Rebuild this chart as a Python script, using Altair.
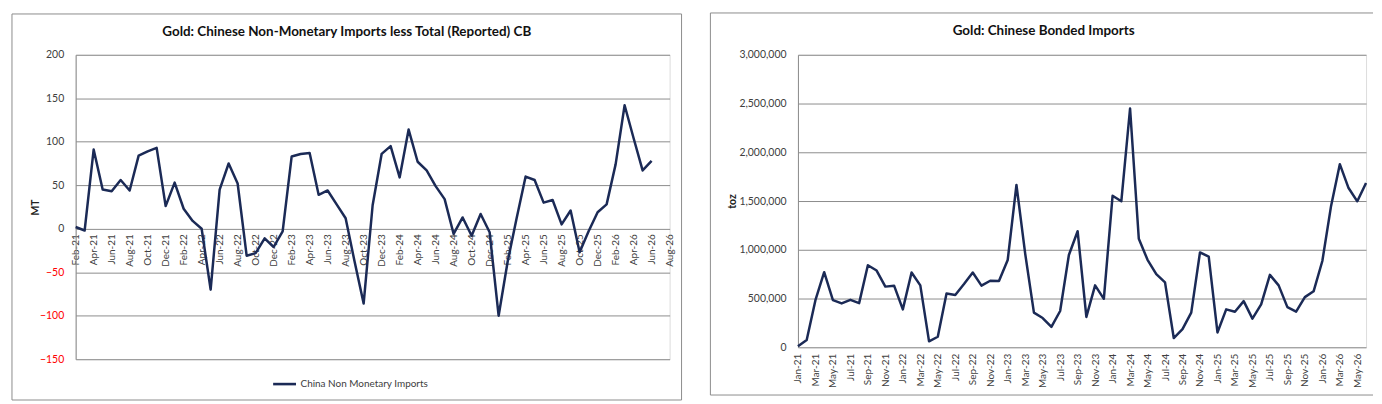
import altair as alt
import pandas as pd

FONT = "Lato"
NAVY = "#1b2a56"
GRID = "#8c8c8c"
FRAME = "#8c8c8c"
TXT = "#404040"

MON = ["Jan", "Feb", "Mar", "Apr", "May", "Jun", "Jul", "Aug", "Sep", "Oct", "Nov", "Dec"]


def month_list(year, month, n):
    out = []
    for k in range(n):
        mm = (month - 1 + k) % 12
        yy = year + (month - 1 + k) // 12
        out.append(f"{MON[mm]}-{yy % 100:02d}")
    return out


# ---------------- left panel data ----------------
nm_title = "Gold: Chinese Non-Monetary Imports less Total (Reported) CB"
nm_series = "China Non Monetary Imports"
nm_axis_months = month_list(2021, 2, 67)      # Feb-21 .. Aug-26
nm_months = nm_axis_months[:65]               # Feb-21 .. Jun-26
nm_ticks = nm_axis_months[::2]
nm_values = [
    2, -2, 91, 45, 43, 56, 44, 84, 89, 93, 26,
    53, 23, 9, 0, -70, 45, 75, 52, -31, -28, -11, -21,
    -3, 83, 86, 87, 39, 44, 28, 12, -38, -86, 27, 86,
    95, 59, 114, 77, 67, 49, 34, -6, 13, -8, 17, -4,
    -100, -38, 12, 60, 56, 30, 33, 5, 21, -27, -3, 19,
    28, 74, 142, 104, 67, 78,
]
nm_yticks = [-150, -100, -50, 0, 50, 100, 150, 200]

# ---------------- right panel data ----------------
bd_title = "Gold: Chinese Bonded Imports"
bd_months = month_list(2021, 1, 66)           # Jan-21 .. Jun-26
bd_ticks = bd_months[::2]
bd_values = [
    10000, 74000, 483000, 770000, 483000, 450000, 487000, 453000, 841000, 787000, 622000, 632000,
    389000, 767000, 635000, 61000, 108000, 551000, 537000, 649000, 767000, 632000, 682000, 679000,
    895000, 1665000, 960000, 355000, 300000, 209000, 372000, 946000, 1190000, 311000, 635000, 497000,
    1554000, 1497000, 2449000, 1113000, 897000, 750000, 666000, 95000, 186000, 355000, 973000, 929000,
    152000, 389000, 365000, 473000, 294000, 439000, 743000, 635000, 412000, 365000, 514000, 574000,
    885000, 1450000, 1878000, 1633000, 1497000, 1684000,
]
bd_yticks = [0, 500000, 1000000, 1500000, 2000000, 2500000, 3000000]

W1, H1 = 597, 306
W2, H2 = 571, 294
one = pd.DataFrame({"a": [0]})

# ---------------- left panel ----------------
left_df = pd.DataFrame({"month": nm_months, "value": nm_values, "series": nm_series})

x1 = alt.X(
    "month:O",
    sort=None,
    scale=alt.Scale(type="point", domain=nm_axis_months, padding=0),
    axis=alt.Axis(
        values=nm_ticks, labelAngle=270, title=None, grid=False, domain=False, ticks=False,
        labelPadding=5, offset=-(H1 * 150 / 350), labelFontSize=10, labelFont=FONT,
        labelColor=TXT, labelOverlap=False,
    ),
)
y1 = alt.Y(
    "value:Q",
    scale=alt.Scale(domain=[-150, 200], nice=False, zero=False),
    axis=alt.Axis(
        values=nm_yticks, grid=True, gridColor=GRID, gridWidth=1, domain=True,
        domainColor=GRID, domainWidth=1, ticks=False, labelPadding=12, labelFontSize=10.5,
        labelFont=FONT,
        labelColor={"condition": {"test": "datum.value < 0", "value": "#ff0000"}, "value": TXT},
        title="MT", titleFont=FONT, titleFontSize=10.5, titleFontWeight="bold", titleColor="#222",
        titleAngle=270, titleX=-40, titleY=H1 / 2, titleAlign="center", titleBaseline="middle",
    ),
)

left_line = alt.Chart(left_df).mark_line(strokeWidth=2.5, strokeJoin="round").encode(
    x=x1,
    y=y1,
    color=alt.Color(
        "series:N",
        scale=alt.Scale(range=[NAVY]),
        legend=alt.Legend(
            orient="none", legendX=197, legendY=318, title=None, symbolType="stroke",
            symbolSize=529, symbolStrokeWidth=2.6, labelFontSize=10, labelFont=FONT,
            labelColor=TXT, padding=0, labelOffset=3,
        ),
    ),
)
left_frame = alt.Chart(one).mark_rect(fillOpacity=0, stroke=FRAME, strokeWidth=1).encode(
    x=alt.value(-64), x2=alt.value(W1 + 12), y=alt.value(-41), y2=alt.value(H1 + 41)
)
left_title = alt.Chart(one).mark_text(
    font=FONT, fontSize=13.5, fontWeight="bold", color="#111", align="center", baseline="middle"
).encode(x=alt.value((-64 + W1 + 12) / 2), y=alt.value(-23), text=alt.value(nm_title))

left = alt.layer(left_frame, left_title, left_line).properties(width=W1, height=H1)

# ---------------- right panel ----------------
right_df = pd.DataFrame({"month": bd_months, "value": bd_values})

x2 = alt.X(
    "month:O",
    sort=None,
    scale=alt.Scale(type="point", domain=bd_months, padding=0),
    axis=alt.Axis(
        values=bd_ticks, labelAngle=270, title=None, grid=False, domain=False, ticks=False,
        labelPadding=6, labelFontSize=10, labelFont=FONT, labelColor=TXT, labelOverlap=False,
    ),
)
y2 = alt.Y(
    "value:Q",
    scale=alt.Scale(domain=[0, 3000000], nice=False),
    axis=alt.Axis(
        values=bd_yticks, format=",d", grid=True, gridColor=GRID, gridWidth=1, domain=True,
        domainColor=GRID, domainWidth=1, ticks=False, labelPadding=12, labelFontSize=10.5,
        labelFont=FONT, labelColor=TXT,
        title="toz", titleFont=FONT, titleFontSize=10.5, titleFontWeight="bold", titleColor="#222",
        titleAngle=270, titleX=-66, titleY=H2 / 2, titleAlign="center", titleBaseline="middle",
    ),
)

right_line = alt.Chart(right_df).mark_line(strokeWidth=2.5, strokeJoin="round", color=NAVY).encode(
    x=x2, y=y2
)
RL, RT, RB, RR = -88, -42, H2 + 48, 578
right_frame_l = alt.Chart(one).mark_rule(stroke=FRAME, strokeWidth=1).encode(
    x=alt.value(RL), y=alt.value(RT), y2=alt.value(RB)
)
right_frame_t = alt.Chart(one).mark_rule(stroke=FRAME, strokeWidth=1).encode(
    x=alt.value(RL), x2=alt.value(RR), y=alt.value(RT)
)
right_frame_b = alt.Chart(one).mark_rule(stroke=FRAME, strokeWidth=1).encode(
    x=alt.value(RL), x2=alt.value(RR), y=alt.value(RB)
)
right_title = alt.Chart(one).mark_text(
    font=FONT, fontSize=13.5, fontWeight="bold", color="#111", align="center", baseline="middle"
).encode(x=alt.value(247), y=alt.value(-24), text=alt.value(bd_title))

right = alt.layer(right_frame_l, right_frame_t, right_frame_b, right_title, right_line).properties(
    width=W2, height=H2
)

chart = (
    alt.hconcat(left, right, spacing=129, bounds="flush")
    .properties(padding={"left": 3, "top": 3, "right": 0, "bottom": 0}, background="white")
    .configure_view(stroke="transparent")
    .configure(font=FONT)
)

chart.save("out.html", embed_options={"renderer": "svg", "actions": False})
